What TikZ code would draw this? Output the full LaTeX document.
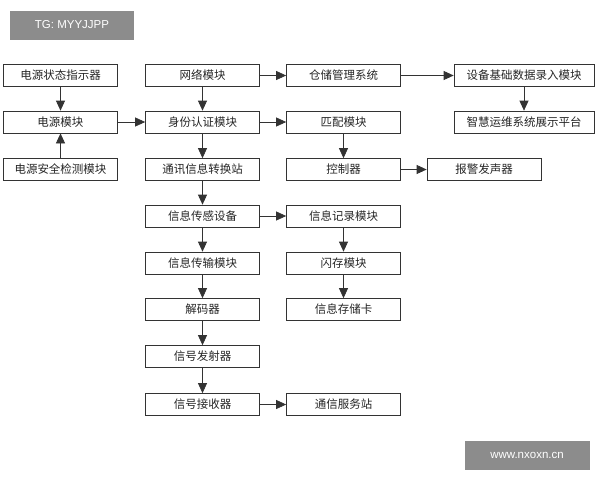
\documentclass[tikz,border=0pt]{standalone}
\usepackage{fontspec}
\setmainfont{Liberation Sans}
\newfontfamily\cjk{Noto Sans CJK SC}
\usetikzlibrary{arrows.meta}
\begin{document}
\begin{tikzpicture}[x=1pt,y=-1pt,
  box/.style={draw=black!80,line width=0.7pt,minimum height=22pt,inner sep=0pt,font=\cjk\fontsize{11.5}{13}\selectfont,text=black!85},
  w/.style={minimum width=114pt},
  arr/.style={-{Triangle[length=10pt,width=9pt]},line width=0.7pt,draw=black!80}]
\useasboundingbox (0,0) rectangle (600,480);
\fill[white] (0,0) rectangle (600,480);
\node[fill=black!45,text=white,font=\fontsize{11.5}{13}\selectfont,minimum width=124pt,minimum height=29pt] (tg) at (72,25) {TG: MYYJJPP};
\node[fill=black!45,text=white,font=\fontsize{11.5}{13}\selectfont,minimum width=125pt,minimum height=29pt] (ww) at (527,455) {www.nxoxn.cn};
\node[box,w] (a1) at (60.5,75.5) {电源状态指示器};
\node[box,w] (a2) at (60.5,122) {电源模块};
\node[box,w] (a3) at (60.5,169.5) {电源安全检测模块};
\node[box,w] (b1) at (202.5,75.5) {网络模块};
\node[box,w] (b2) at (202.5,122) {身份认证模块};
\node[box,w] (b3) at (202.5,169.5) {通讯信息转换站};
\node[box,w] (b4) at (202.5,216) {信息传感设备};
\node[box,w] (b5) at (202.5,263) {信息传输模块};
\node[box,w] (b6) at (202.5,309.5) {解码器};
\node[box,w] (b7) at (202.5,356.5) {信号发射器};
\node[box,w] (b8) at (202.5,404.5) {信号接收器};
\node[box,w] (c1) at (343.5,75.5) {仓储管理系统};
\node[box,w] (c2) at (343.5,122) {匹配模块};
\node[box,w] (c3) at (343.5,169.5) {控制器};
\node[box,w] (c4) at (343.5,216) {信息记录模块};
\node[box,w] (c5) at (343.5,263) {闪存模块};
\node[box,w] (c6) at (343.5,309.5) {信息存储卡};
\node[box,w] (c8) at (343.5,404.5) {通信服务站};
\node[box,minimum width=140pt] (d1) at (524,75.5) {设备基础数据录入模块};
\node[box,minimum width=140pt] (d2) at (524,122) {智慧运维系统展示平台};
\node[box,w] (d3) at (484,169.5) {报警发声器};
\draw[arr] (a1) -- (a2);
\draw[arr] (a3) -- (a2);
\draw[arr] (a2) -- (b2);
\draw[arr] (b1) -- (b2);
\draw[arr] (b1) -- (c1);
\draw[arr] (c1) -- (d1);
\draw[arr] (d1) -- (d2);
\draw[arr] (b2) -- (c2);
\draw[arr] (b2) -- (b3);
\draw[arr] (c2) -- (c3);
\draw[arr] (c3) -- (d3);
\draw[arr] (b3) -- (b4);
\draw[arr] (b4) -- (c4);
\draw[arr] (b4) -- (b5);
\draw[arr] (c4) -- (c5);
\draw[arr] (c5) -- (c6);
\draw[arr] (b5) -- (b6);
\draw[arr] (b6) -- (b7);
\draw[arr] (b7) -- (b8);
\draw[arr] (b8) -- (c8);
\end{tikzpicture}
\end{document}
